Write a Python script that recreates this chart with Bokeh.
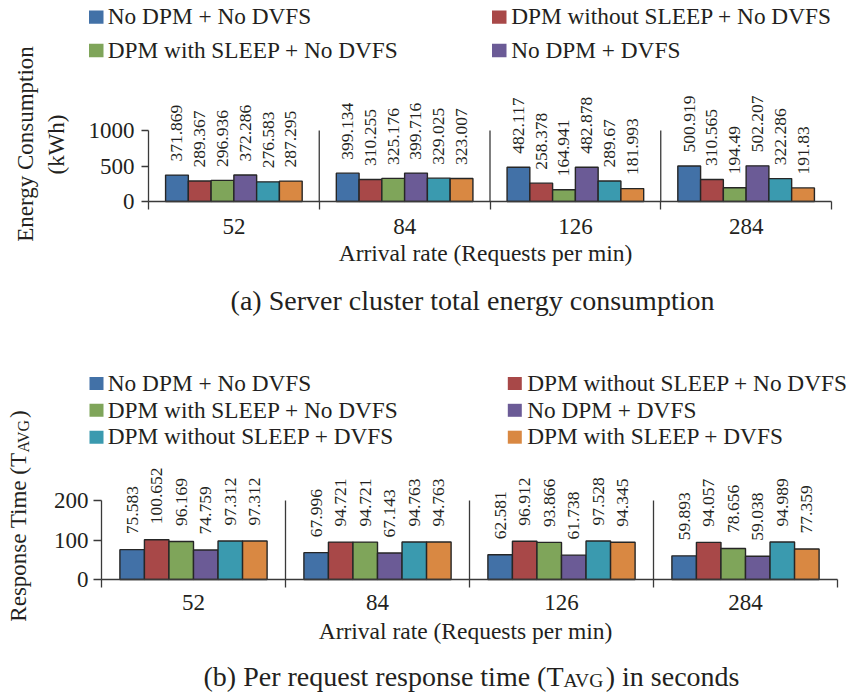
import math
from bokeh.plotting import figure
from bokeh.models import (ColumnDataSource, Range1d, FixedTicker, LabelSet, Label,
                          BoxAnnotation, LinearAxis)
from bokeh.embed import file_html
from bokeh.resources import INLINE

# ---------------- data ----------------
categories = ["52", "84", "126", "284"]
series_names = [
    "No DPM + No DVFS",
    "DPM without SLEEP + No DVFS",
    "DPM with SLEEP + No DVFS",
    "No DPM + DVFS",
    "DPM without SLEEP + DVFS",
    "DPM with SLEEP + DVFS",
]
series_colors = ["#4271A7", "#A84848", "#7FA55A", "#6B5B96", "#3A9AAF", "#D98842"]

energy_nodpm_nodvfs = [371.869, 399.134, 482.117, 500.919]
energy_dpm_nosleep_nodvfs = [289.367, 310.255, 258.378, 310.565]
energy_dpm_sleep_nodvfs = [296.936, 325.176, 164.941, 194.49]
energy_nodpm_dvfs = [372.286, 399.716, 482.878, 502.207]
energy_dpm_nosleep_dvfs = [276.583, 329.025, 289.67, 322.286]
energy_dpm_sleep_dvfs = [287.295, 323.007, 181.993, 191.83]

resp_nodpm_nodvfs = [75.583, 67.996, 62.581, 59.893]
resp_dpm_nosleep_nodvfs = [100.652, 94.721, 96.912, 94.057]
resp_dpm_sleep_nodvfs = [96.169, 94.721, 93.866, 78.656]
resp_nodpm_dvfs = [74.759, 67.143, 61.738, 59.038]
resp_dpm_nosleep_dvfs = [97.312, 94.763, 97.528, 94.989]
resp_dpm_sleep_dvfs = [97.312, 94.763, 94.345, 77.359]

energy_series = [energy_nodpm_nodvfs, energy_dpm_nosleep_nodvfs, energy_dpm_sleep_nodvfs,
                 energy_nodpm_dvfs, energy_dpm_nosleep_dvfs, energy_dpm_sleep_dvfs]
resp_series = [resp_nodpm_nodvfs, resp_dpm_nosleep_nodvfs, resp_dpm_sleep_nodvfs,
               resp_nodpm_dvfs, resp_dpm_nosleep_dvfs, resp_dpm_sleep_dvfs]

energy_ticks = [0, 500, 1000]
resp_ticks = [0, 100, 200]

energy_legend_count = 4
resp_legend_count = 6

# ---------------- style / layout ----------------
FONT = "Liberation Serif"
TXT = "#231f20"
AXC = "#3a3a3a"
BAR_LINE = "#262626"
W, H = 846, 698

p = figure(width=W, height=H, x_range=Range1d(0, W), y_range=Range1d(0, H),
           x_axis_type=None, y_axis_type=None, output_backend="svg",
           toolbar_location=None, min_border=0)
p.outline_line_color = None
p.background_fill_color = "white"
p.border_fill_color = "white"


def xr(d0, p0, d1, p1):
    k = (d1 - d0) / (p1 - p0)
    return Range1d(d0 + (0 - p0) * k, d0 + (W - p0) * k)


def yr(d0, p0, d1, p1):
    k = (d1 - d0) / (p1 - p0)
    return Range1d(d0 + (H - p0) * k, d0 + (0 - p0) * k)


n_cat = len(categories)
# panel (a): categories 0..n -> page x 148..831, energy 0..1000 -> page y 201..130
# panel (b): categories 0..n -> page x 101..837, response 0..200 -> page y 579..500
p.extra_x_ranges = {"xa": xr(0, 148, n_cat, 831), "xb": xr(0, 101, n_cat, 837)}
p.extra_y_ranges = {"ya": yr(0, 201, energy_ticks[-1], 130), "yb": yr(0, 579, resp_ticks[-1], 500)}


def PY(py):
    return H - py


def lab(x, py, text, size="23px", angle=0.0, align="left"):
    # py is the vertical middle of the text line (page pixels from top)
    p.add_layout(Label(x=x, y=PY(py), text=text, angle=angle, text_font=FONT,
                       text_font_size=size, text_color=TXT, text_align=align,
                       text_baseline="middle"))


def panel(values, ticks, xname, yname, label_off, tick_out, tick_standoff, cat_standoff,
          legend_n, leg_sq_x, leg_txt_x, leg_mid, sq_w, sq_h):
    ns = len(values)
    group = 0.8
    bw = group / ns
    for j, vals in enumerate(values):
        xs = [i + 0.5 + (j - (ns - 1) / 2) * bw for i in range(n_cat)]
        src = ColumnDataSource(dict(x=xs, top=vals, txt=[str(v) for v in vals]))
        p.vbar(x="x", top="top", width=bw, bottom=0, source=src,
               x_range_name=xname, y_range_name=yname,
               fill_color=series_colors[j], line_color=BAR_LINE, line_width=1.4)
        p.add_layout(LabelSet(x="x", y="top", text="txt", source=src,
                              x_range_name=xname, y_range_name=yname, angle=math.pi / 2,
                              text_align="left", text_baseline="middle", y_offset=label_off,
                              text_font=FONT, text_font_size="17.5px", text_color=TXT))

    # separators between categories
    seps = list(range(1, n_cat))
    p.segment(x0=seps, y0=[0] * len(seps), x1=seps, y1=[ticks[-1]] * len(seps),
              x_range_name=xname, y_range_name=yname, line_color=AXC, line_width=1.3)

    xa = LinearAxis(x_range_name=xname, y_range_name=yname, fixed_location=0,
                    bounds=(0, n_cat),
                    ticker=FixedTicker(ticks=[i + 0.5 for i in range(n_cat)],
                                       minor_ticks=list(range(0, n_cat + 1))),
                    major_label_overrides={i + 0.5: c for i, c in enumerate(categories)},
                    major_tick_out=0, major_tick_in=0, minor_tick_out=8, minor_tick_in=0,
                    minor_tick_line_color=AXC, minor_tick_line_width=1.3,
                    axis_line_color=AXC, axis_line_width=1.3,
                    major_label_standoff=cat_standoff, major_label_text_font=FONT,
                    major_label_text_font_size="23px", major_label_text_color=TXT)
    p.add_layout(xa, "below")

    ya = LinearAxis(x_range_name=xname, y_range_name=yname, fixed_location=0,
                    bounds=(ticks[0], ticks[-1]), ticker=FixedTicker(ticks=ticks),
                    major_tick_out=tick_out, major_tick_in=0, minor_tick_out=0, minor_tick_in=0,
                    major_tick_line_color=AXC, major_tick_line_width=1.3,
                    axis_line_color=AXC, axis_line_width=1.3,
                    major_label_standoff=tick_standoff, major_label_text_font=FONT,
                    major_label_text_font_size="23px", major_label_text_color=TXT)
    p.add_layout(ya, "left")

    # legend, two columns
    for k in range(legend_n):
        r, c = divmod(k, 2)
        mid = leg_mid[r]
        sx = leg_sq_x[c]
        p.add_layout(BoxAnnotation(left=sx, right=sx + sq_w, top=PY(mid - sq_h / 2),
                                   bottom=PY(mid + sq_h / 2),
                                   fill_color=series_colors[k], fill_alpha=1.0,
                                   line_color=None))
        lab(leg_txt_x[c], mid - 0.8, series_names[k], size="23.3px")


# ---------------- panel (a) ----------------
panel(energy_series, energy_ticks, "xa", "ya", label_off=13.5, tick_out=7, tick_standoff=7,
      cat_standoff=9, legend_n=energy_legend_count, leg_sq_x=[88.5, 491.5],
      leg_txt_x=[107.3, 510.7], leg_mid=[16.6, 50.0], sq_w=14.5, sq_h=13.3)

lab(24.5, 143.5, "Energy Consumption", angle=math.pi / 2, align="center")
lab(55.5, 144, "(kWh)", angle=math.pi / 2, align="center")
lab(485, 252.3, "Arrival rate (Requests per min)", size="23.5px", align="center")
lab(472, 300, "(a) Server cluster total energy consumption", size="28px", align="center")

# ---------------- panel (b) ----------------
panel(resp_series, resp_ticks, "xb", "yb", label_off=15.5, tick_out=8, tick_standoff=5,
      cat_standoff=7, legend_n=resp_legend_count, leg_sq_x=[89, 507.3],
      leg_txt_x=[107.3, 526.7], leg_mid=[383.0, 409.8, 436.7], sq_w=14, sq_h=13)

lab(465, 630.3, "Arrival rate (Requests per min)", size="23.5px", align="center")

# y axis title with subscript: "Response Time (T" + "AVG" + ")"
main_sz, sub_sz = 23, 16
avg_w = 2.166 * sub_sz
j_page = 622 - 7.388 * main_sz
mid_x = 18.2
lab(mid_x, j_page, "Response Time (T", size=f"{main_sz}px", angle=math.pi / 2, align="right")
lab(mid_x + 4.4, j_page, "AVG", size=f"{sub_sz}px", angle=math.pi / 2, align="left")
lab(mid_x, j_page - avg_w, ")", size=f"{main_sz}px", angle=math.pi / 2, align="left")

# caption (b) with subscript
cap_sz, cap_sub = 28, 19.5
cap_mid = 675.5
j_cap = 203 + 12.858 * cap_sz
lab(j_cap, cap_mid, "(b) Per request response time (T", size=f"{cap_sz}px", align="right")
lab(j_cap, cap_mid + 4.4, "AVG", size=f"{cap_sub}px", align="left")
lab(j_cap + 2.166 * cap_sub, cap_mid, ") in seconds", size=f"{cap_sz}px", align="left")

open("out.html", "w").write(file_html(p, INLINE))
